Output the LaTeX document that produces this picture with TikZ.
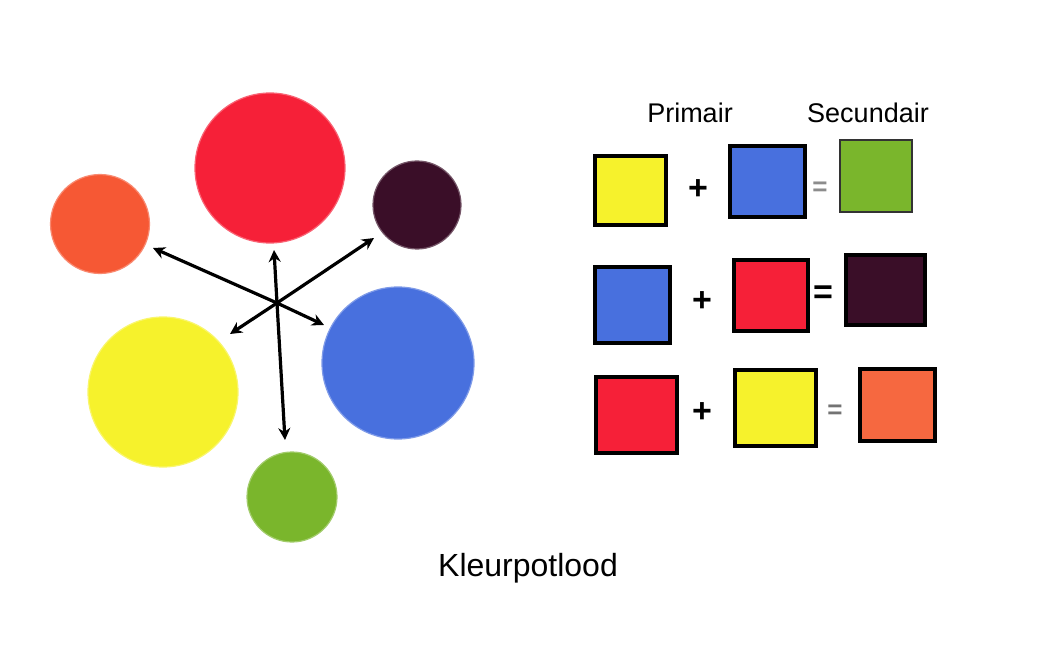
\documentclass[tikz,border=0pt]{standalone}
\usepackage{fontspec}
\setmainfont{Liberation Sans}
\usetikzlibrary{arrows.meta}
\definecolor{cred}{RGB}{246,32,56}
\definecolor{corange}{RGB}{246,88,52}
\definecolor{cpurple}{RGB}{58,14,40}
\definecolor{cyellow}{RGB}{246,242,44}
\definecolor{cblue}{RGB}{72,112,222}
\definecolor{cgreen}{RGB}{122,182,44}
\definecolor{sorange}{RGB}{246,104,64}
\begin{document}
\begin{tikzpicture}[x=1pt,y=-1pt,
  blob/.style={circle,inner sep=0pt,draw=#1!70!white,line width=1.2pt,fill=#1},
  swatch/.style={rectangle,inner sep=0pt,draw=black,line width=4pt,fill=#1},
  sign/.style={font=\fontsize{34}{34}\selectfont\bfseries,inner sep=0pt},
  label/.style={font=\fontsize{27}{27}\selectfont,inner sep=0pt},
  ray/.style={line width=3.2pt,-{Stealth[length=12pt,width=12pt]}}]
\useasboundingbox (0,0) rectangle (1051,660);
\fill[white] (0,0) rectangle (1051,660);

% colour circle
\node[blob=cred,minimum size=150] (red) at (270,168) {};
\node[blob=corange,minimum size=99] (orange) at (100,224) {};
\node[blob=cpurple,minimum size=88] (purple) at (417,205) {};
\node[blob=cyellow,minimum width=145,minimum height=150] (yellow) at (163,392) {};
\node[blob=cblue,minimum size=152] (blue) at (398,363) {};
\node[blob=cgreen,minimum size=90] (green) at (292,497) {};

% arrows from the hub
\coordinate (hub) at (277,303);
\coordinate (tO) at (153,248);
\coordinate (tR) at (274,250);
\coordinate (tP) at (374,238);
\coordinate (tY) at (230,334);
\coordinate (tB) at (324,325);
\coordinate (tG) at (285,440);
\foreach \t in {tO,tR,tP,tY,tB,tG} \draw[ray] (hub) -- (\t);

% headings
\node[label] (prim) at (690,113) {Primair};
\node[label] (sec) at (868,113) {Secundair};

% row 1: yellow + blue = green
\node[swatch=cyellow,minimum width=71,minimum height=69] (y1) at (630,191) {};
\node[sign] (p1) at (698,190) {+};
\node[swatch=cblue,minimum width=75,minimum height=71] (b1) at (767,182) {};
\node[sign,text=black!45,font=\fontsize{26}{26}\selectfont\bfseries] (e1) at (820,189) {=};
\node[swatch=cgreen,draw=black!80,line width=1.5pt,minimum width=72,minimum height=72] (g1) at (876,176) {};

% row 2: blue + red = purple
\node[swatch=cblue,minimum width=75,minimum height=76] (b2) at (632,305) {};
\node[sign] (p2) at (702,302) {+};
\node[swatch=cred,minimum width=74,minimum height=71] (r2) at (771,295) {};
\node[sign] (e2) at (823,295) {=};
\node[swatch=cpurple,minimum width=79,minimum height=70] (u2) at (885,290) {};

% row 3: red + yellow = orange
\node[swatch=cred,minimum width=81,minimum height=76] (r3) at (636,415) {};
\node[sign] (p3) at (702,413) {+};
\node[swatch=cyellow,minimum width=81,minimum height=76] (y3) at (775,408) {};
\node[sign,text=black!55,font=\fontsize{26}{26}\selectfont\bfseries] (e3) at (835,412) {=};
\node[swatch=sorange,minimum width=75,minimum height=72] (o3) at (897,405) {};

% caption
\node[font=\fontsize{32}{32}\selectfont,inner sep=0pt] (cap) at (528,568) {Kleurpotlood};
\end{tikzpicture}
\end{document}
